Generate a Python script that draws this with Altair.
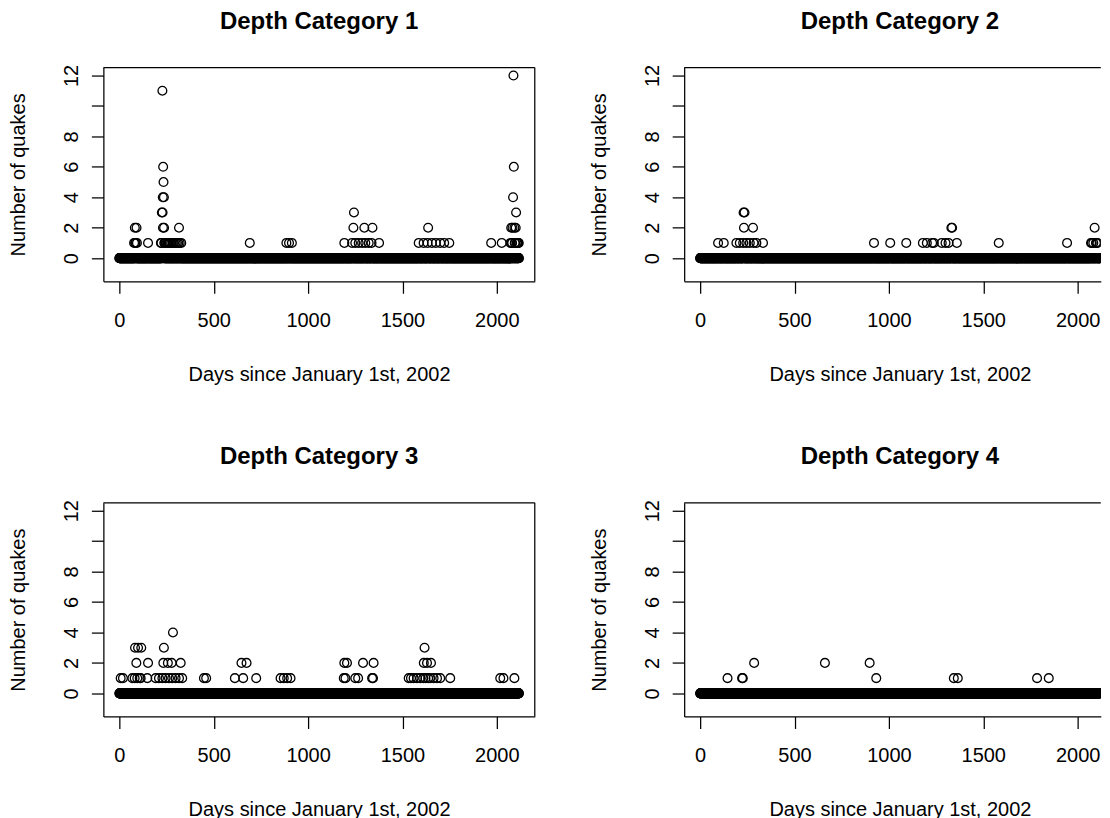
import altair as alt
import pandas as pd

FONT = "Liberation Sans"
N_DAYS = 2118  # observed days 0..2117

X_TICKS = [0, 500, 1000, 1500, 2000]
Y_TICKS = [0, 2, 4, 6, 8, 10, 12]
TITLES = ["Depth Category 1", "Depth Category 2", "Depth Category 3", "Depth Category 4"]

# days with a non-zero number of quakes, grouped by count
CAT1 = {
    1: [78, 84, 86, 93, 152, 220, 223, 238, 241, 245, 250, 256, 262, 268, 275, 283, 290, 298,
        305, 312, 320, 328, 691, 885, 899, 914, 1192, 1233, 1250, 1268, 1286, 1303, 1321, 1336,
        1376, 1586, 1612, 1633, 1656, 1677, 1700, 1721, 1748, 1970, 2026, 2072, 2078, 2081,
        2095, 2097, 2105, 2108, 2110, 2113, 2116],
    2: [82, 91, 231, 237, 316, 1240, 1298, 1341, 1636, 2076, 2083, 2093, 2100],
    3: [225, 229, 1243, 2102],
    4: [230, 236, 2086],
    5: [234],
    6: [232, 2090],
    11: [228],
    12: [2088],
}
CAT2 = {
    1: [95, 125, 192, 210, 228, 245, 263, 283, 298, 333, 921, 1007, 1092, 1180, 1201, 1229,
        1238, 1280, 1300, 1316, 1360, 1582, 1944, 2071, 2075, 2083, 2097, 2100, 2105],
    2: [232, 280, 1331, 1335, 2090],
    3: [230, 235],
}
CAT3 = {
    1: [7, 19, 69, 81, 95, 108, 113, 148, 192, 210, 228, 245, 263, 280, 298, 316, 333, 448,
        460, 612, 656, 725, 854, 871, 889, 907, 1189, 1198, 1250, 1265, 1339, 1344, 1533,
        1545, 1559, 1577, 1594, 1610, 1622, 1636, 1647, 1665, 1683, 1700, 1753, 2018, 2035, 2093],
    2: [90, 152, 233, 257, 277, 325, 647, 674, 1192, 1206, 1291, 1347, 1613, 1630, 1651],
    3: [83, 99, 116, 236, 1617],
    4: [284],
}
CAT4 = {
    1: [145, 222, 226, 933, 1344, 1365, 1785, 1847],
    2: [286, 661, 898],
}

X_MIN = -84.7
X_MAX_FULL = 2201.0
Y_DOM = [-1.52, 12.52]
W_FULL = 432
W_CLIP = 417.2
H = 214
LW = 1.25


def daily(nonzero):
    counts = [0] * N_DAYS
    for c, days in nonzero.items():
        for d in days:
            counts[d] = c
    return pd.DataFrame({"day": list(range(N_DAYS)), "count": counts})


def panel(nonzero, title, clipped):
    width = W_CLIP if clipped else W_FULL
    xmax = X_MIN + (X_MAX_FULL - X_MIN) * width / W_FULL
    xaxis = alt.Axis(
        values=X_TICKS, format="d", title="Days since January 1st, 2002", grid=False,
        domain=True, domainColor="black", domainWidth=LW,
        ticks=True, tickSize=12, tickColor="black", tickWidth=LW,
        labelFont=FONT, labelFontSize=20, labelColor="black", labelBaseline="alphabetic",
        labelPadding=33, labelFlush=False, labelOverlap=False,
        titleFont=FONT, titleFontSize=20, titleFontWeight="normal", titleColor="black",
        titleBaseline="alphabetic", titleAlign="center", titleX=W_FULL / 2, titleY=99.5,
    )
    yaxis = alt.Axis(
        values=Y_TICKS, labelExpr="datum.value == 10 ? '' : datum.label",
        title="Number of quakes", grid=False,
        domain=True, domainColor="black", domainWidth=LW,
        ticks=True, tickSize=12, tickColor="black", tickWidth=LW,
        labelFont=FONT, labelFontSize=20, labelColor="black", labelAngle=270,
        labelAlign="center", labelBaseline="alphabetic", labelPadding=13.7,
        labelFlush=False, labelOverlap=False,
        titleFont=FONT, titleFontSize=20, titleFontWeight="normal", titleColor="black",
        titleAngle=270, titleAlign="center", titleBaseline="alphabetic",
        titleX=-79.2, titleY=H / 2,
    )
    pts = alt.Chart(daily(nonzero)).mark_point(
        shape="circle", filled=False, size=77, strokeWidth=1.3, color="black", opacity=1,
        clip=True,
    ).encode(
        x=alt.X("day:Q", scale=alt.Scale(domain=[X_MIN, xmax], nice=False, zero=False), axis=xaxis),
        y=alt.Y("count:Q", scale=alt.Scale(domain=Y_DOM, nice=False, zero=False), axis=yaxis),
    )
    one = pd.DataFrame({"a": [0]})
    layers = [
        pts,
        alt.Chart(one).mark_rule(color="black", strokeWidth=LW).encode(
            x=alt.value(0), x2=alt.value(width), y=alt.value(0)),
    ]
    if not clipped:
        layers.append(
            alt.Chart(one).mark_rule(color="black", strokeWidth=LW).encode(
                x=alt.value(width), y=alt.value(0), y2=alt.value(H)))
    return alt.layer(*layers).properties(
        width=width, height=H,
        title=alt.TitleParams(
            title, font=FONT, fontSize=24, fontWeight="bold", color="black",
            anchor="middle", frame="group", baseline="alphabetic", offset=11.2,
            dx=(W_FULL - width) / 2,
        ),
    )


chart = alt.concat(
    panel(CAT1, TITLES[0], False),
    panel(CAT2, TITLES[1], True),
    panel(CAT3, TITLES[2], False),
    panel(CAT4, TITLES[3], True),
    columns=2,
    spacing={"row": 221.8, "column": 149.6},
).properties(
    bounds="flush",
    padding={"left": -0.5, "top": 1.1, "right": 0, "bottom": 0},
).configure_view(stroke="transparent")

chart.save("out.html", embed_options={"renderer": "svg", "actions": False})
